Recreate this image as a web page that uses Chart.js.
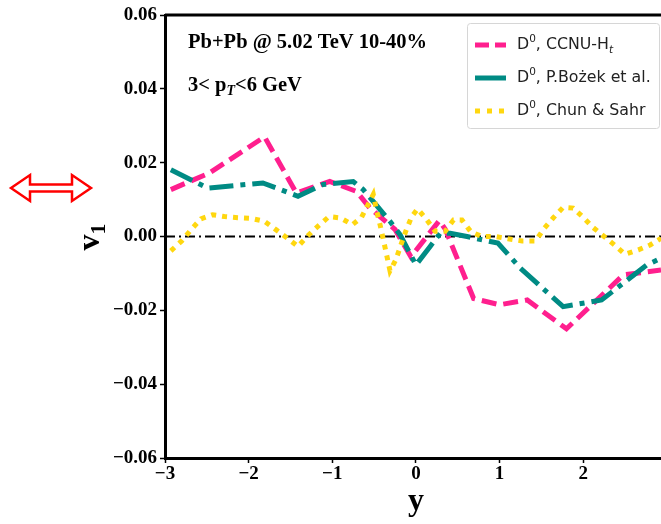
<!DOCTYPE html>
<html>
<head>
<meta charset="utf-8">
<script src="https://cdn.jsdelivr.net/npm/chart.js@4/dist/chart.umd.min.js"></script>
<style>
  html, body { margin: 0; padding: 0; background: #fff; }
  #wrap { width: 661px; height: 524px; position: relative; }
</style>
</head>
<body>
<div id="wrap"><canvas id="chartV1"></canvas></div>
<script>
// rapidity values and v1 for each model
const ccnuY  = [-2.93, -2.47, -1.81, -1.43, -1.03, -0.71, -0.55, -0.25, -0.06, 0.28, 0.35, 0.69, 1.0, 1.33, 1.8, 2.48, 2.93];
const ccnuV1 = [0.0127, 0.0172, 0.027, 0.0118, 0.0149, 0.0122, 0.0077, 0.0019, -0.0055, 0.0043, 0.002, -0.0168, -0.0185, -0.0172, -0.025, -0.0104, -0.0091];

const bozekY  = [-2.93, -2.49, -1.83, -1.41, -1.11, -0.75, -0.63, -0.31, -0.19, 0.0, 0.17, 0.29, 0.41, 0.61, 0.98, 1.25, 1.76, 2.22, 2.76, 2.93];
const bozekV1 = [0.0181, 0.0131, 0.0145, 0.0109, 0.0141, 0.0149, 0.0127, 0.0041, 0.0005, -0.0077, -0.0027, 0.0009, 0.0009, 0.0, -0.0018, -0.0086, -0.019, -0.0172, -0.0077, -0.0059];

const chunY  = [-2.93, -2.8, -2.69, -2.57, -2.43, -2.29, -2.13, -1.97, -1.81, -1.67, -1.53, -1.41, -1.28, -1.16, -1.04, -0.9, -0.76, -0.65, -0.51, -0.47, -0.43, -0.39, -0.35, -0.31, -0.24, -0.18, -0.12, -0.05, 0.02, 0.13, 0.23, 0.35, 0.45, 0.55, 0.66, 0.79, 0.95, 1.1, 1.27, 1.43, 1.53, 1.64, 1.76, 1.88, 2.0, 2.12, 2.25, 2.38, 2.5, 2.66, 2.8, 2.93];
const chunV1 = [-0.0039, -0.0012, 0.0018, 0.0048, 0.0059, 0.0054, 0.0051, 0.0049, 0.0041, 0.0018, -0.0006, -0.0027, 0.0005, 0.003, 0.0054, 0.005, 0.0032, 0.0052, 0.0114, 0.007, 0.0033, -0.0008, -0.005, -0.0093, -0.0063, -0.0023, 0.0015, 0.0054, 0.0075, 0.0045, 0.0014, 0.0014, 0.0045, 0.0045, 0.0012, 0.0, 0.0, -0.0006, -0.0012, -0.0012, 0.0021, 0.005, 0.0079, 0.0077, 0.0052, 0.0024, 0.0, -0.0024, -0.0048, -0.0036, -0.0023, -0.0005];

const zeroY  = [-3, 2.93];
const zeroV1 = [0, 0];

const xTicks = [-3, -2, -1, 0, 1, 2];
const yTicks = [-0.06, -0.04, -0.02, 0.0, 0.02, 0.04, 0.06];

const pink = "#ff1f8e";
const teal = "#008b84";
const gold = "#ffd70f";

function pts(xs, ys) {
    return xs.map((x, i) => ({ x: x, y: ys[i] }));
}

function fmt(v) {
    const s = Math.abs(v).toFixed(2);
    return v < -1e-9 ? "\u2212" + s : s;
}

const tickFont = { family: "'Liberation Serif', serif", size: 19, weight: "bold" };

// extra drawing: frame top, annotations, legend, axis titles, arrow
const decor = {
    id: "decor",
    afterDraw(chart) {
        const ctx = chart.ctx;
        const a = chart.chartArea;
        ctx.save();

        // top frame line
        ctx.strokeStyle = "#000";
        ctx.lineWidth = 3;
        ctx.beginPath();
        ctx.moveTo(a.left, a.top);
        ctx.lineTo(a.right, a.top);
        ctx.stroke();

        // annotations
        ctx.fillStyle = "#000";
        ctx.textBaseline = "middle";
        ctx.font = "bold 20.5px 'Liberation Serif', serif";
        ctx.fillText("Pb+Pb @ 5.02 TeV 10-40%", 188, 43);
        ctx.fillText("3< p", 188, 86);
        let w = ctx.measureText("3< p").width;
        ctx.font = "italic bold 14px 'Liberation Serif', serif";
        ctx.fillText("T", 188 + w, 91);
        let w2 = ctx.measureText("T").width;
        ctx.font = "bold 20.5px 'Liberation Serif', serif";
        ctx.fillText("<6 GeV", 188 + w + w2, 86);

        // legend box
        const lx = 467, ly = 23, lw = 192, lh = 105;
        ctx.fillStyle = "rgba(255,255,255,0.9)";
        ctx.strokeStyle = "#d6d6d6";
        ctx.lineWidth = 1;
        ctx.beginPath();
        ctx.roundRect(lx + 0.5, ly + 0.5, lw, lh, 3);
        ctx.fill();
        ctx.stroke();

        const rows = [
            { y: 45, color: pink, dash: [14, 6], label: ", CCNU-H", sub: "t" },
            { y: 78, color: teal, dash: [], label: ", P.Bo\u017cek et al.", sub: "" },
            { y: 111, color: gold, dash: [5, 7], label: ", Chun & Sahr", sub: "" }
        ];
        rows.forEach(r => {
            ctx.strokeStyle = r.color;
            ctx.lineWidth = 5;
            ctx.setLineDash(r.dash);
            ctx.beginPath();
            ctx.moveTo(475, r.y);
            ctx.lineTo(506, r.y);
            ctx.stroke();
            ctx.setLineDash([]);

            ctx.fillStyle = "#222";
            ctx.font = "15.8px 'DejaVu Sans', sans-serif";
            let x = 517;
            ctx.fillText("D", x, r.y);
            x += ctx.measureText("D").width;
            ctx.font = "10.5px 'DejaVu Sans', sans-serif";
            ctx.fillText("0", x, r.y - 6);
            x += ctx.measureText("0").width;
            ctx.font = "15.8px 'DejaVu Sans', sans-serif";
            ctx.fillText(r.label, x, r.y);
            x += ctx.measureText(r.label).width;
            if (r.sub) {
                ctx.font = "italic 10.5px 'DejaVu Sans', sans-serif";
                ctx.fillText(r.sub, x, r.y + 5);
            }
        });

        // y axis title v_1
        ctx.fillStyle = "#000";
        ctx.save();
        ctx.translate(93, 237);
        ctx.rotate(-Math.PI / 2);
        ctx.textAlign = "left";
        ctx.font = "bold 32px 'Liberation Serif', serif";
        const vw = ctx.measureText("v").width;
        ctx.font = "bold 22px 'Liberation Serif', serif";
        const ow = ctx.measureText("1").width;
        const start = -(vw + ow) / 2;
        ctx.font = "bold 32px 'Liberation Serif', serif";
        ctx.fillText("v", start, -2);
        ctx.font = "bold 22px 'Liberation Serif', serif";
        ctx.fillText("1", start + vw, 6);
        ctx.restore();

        // x axis title
        ctx.textAlign = "center";
        ctx.font = "bold 32px 'Liberation Serif', serif";
        ctx.fillText("y", 416, 502);

        // red hollow double arrow
        const cy = 188, x0 = 11, x1 = 91, hl = 19, hh = 13, sh = 3.5;
        ctx.beginPath();
        ctx.moveTo(x0, cy);
        ctx.lineTo(x0 + hl, cy - hh);
        ctx.lineTo(x0 + hl, cy - sh);
        ctx.lineTo(x1 - hl, cy - sh);
        ctx.lineTo(x1 - hl, cy - hh);
        ctx.lineTo(x1, cy);
        ctx.lineTo(x1 - hl, cy + hh);
        ctx.lineTo(x1 - hl, cy + sh);
        ctx.lineTo(x0 + hl, cy + sh);
        ctx.lineTo(x0 + hl, cy + hh);
        ctx.closePath();
        ctx.fillStyle = "#fff";
        ctx.fill();
        ctx.strokeStyle = "#ff0000";
        ctx.lineWidth = 2.5;
        ctx.lineJoin = "miter";
        ctx.stroke();

        ctx.restore();
    }
};

new Chart(document.getElementById("chartV1"), {
    type: "line",
    data: {
        datasets: [
            {
                label: "Chun & Sahr",
                data: pts(chunY, chunV1),
                borderColor: gold,
                borderWidth: 5,
                borderDash: [5, 6],
                borderCapStyle: "butt",
                order: 0
            },
            {
                label: "P.Bozek et al.",
                data: pts(bozekY, bozekV1),
                borderColor: teal,
                borderWidth: 5,
                borderDash: [24, 7, 5, 7],
                order: 1
            },
            {
                label: "CCNU-Ht",
                data: pts(ccnuY, ccnuV1),
                borderColor: pink,
                borderWidth: 5,
                borderDash: [15, 7],
                order: 2
            },
            {
                label: "zero",
                data: pts(zeroY, zeroV1),
                borderColor: "#000",
                borderWidth: 1.8,
                borderDash: [10, 4, 2, 4],
                order: 3
            }
        ]
    },
    options: {
        responsive: true,
        maintainAspectRatio: false,
        animation: false,
        layout: { padding: { top: 15, right: 0, left: 0, bottom: 0 } },
        elements: { point: { radius: 0 }, line: { tension: 0, fill: false } },
        plugins: {
            legend: { display: false },
            tooltip: { enabled: false }
        },
        scales: {
            x: {
                type: "linear",
                min: -3,
                max: 2.93,
                afterFit: s => { s.height = 66; },
                afterBuildTicks: s => { s.ticks = xTicks.map(v => ({ value: v })); },
                border: { display: true, color: "#000", width: 3 },
                grid: { display: true, drawOnChartArea: false, drawTicks: true, tickLength: 5, color: "#000", tickWidth: 1.5 },
                ticks: {
                    color: "#000",
                    font: tickFont,
                    padding: 0,
                    maxRotation: 0,
                    callback: v => fmt(v).replace(".00", "")
                }
            },
            y: {
                type: "linear",
                min: -0.06,
                max: 0.06,
                afterFit: s => { s.width = 165; },
                afterBuildTicks: s => { s.ticks = yTicks.map(v => ({ value: v })); },
                border: { display: true, color: "#000", width: 3 },
                grid: { display: true, drawOnChartArea: false, drawTicks: true, tickLength: 5, color: "#000", tickWidth: 1.5 },
                ticks: {
                    color: "#000",
                    font: tickFont,
                    padding: 3,
                    callback: v => fmt(v)
                }
            }
        }
    },
    plugins: [decor]
});
</script>
</body>
</html>
